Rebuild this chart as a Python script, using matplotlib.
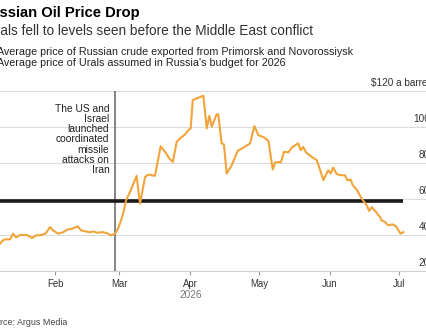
import matplotlib
matplotlib.use('Agg')
import matplotlib.pyplot as plt
import matplotlib.dates as mdates
from datetime import datetime

plt.rcParams['font.family'] = ['Liberation Sans', 'DejaVu Sans']

# Urals price: days since 1 Jan 2026 and $ a barrel
days = [7.0, 8.3, 9.2, 11.4, 12.7, 14.0, 15.7, 18.8, 21.0, 22.7, 25.3, 27.1,
        28.8, 30.1, 32.3, 34.5, 36.2, 38.4, 41.0, 42.3, 44.5, 46.3, 47.6, 49.3,
        52.0, 54.1, 55.4, 57.2, 58.5, 59.8, 60.7, 62.0, 63.7, 66.6, 68.1, 70.3,
        71.7, 74.6, 77.1, 79.0, 80.9, 82.4, 84.1, 85.5, 87.7, 89.2, 90.2, 91.1,
        95.7, 97.2, 98.3, 99.4, 101.5, 102.2, 103.7, 104.7, 105.9, 108.1, 110.7,
        113.2, 116.1, 118.0, 119.7, 122.2, 124.1, 126.0, 127.0, 129.6, 130.9,
        132.8, 134.3, 137.1, 138.2, 139.3, 140.5, 143.0, 145.2, 148.1, 150.2,
        151.3, 152.4, 153.9, 156.1, 157.5, 158.5, 160.0, 160.9, 162.6, 164.8,
        167.0, 168.1, 169.2, 171.4, 172.8, 173.5, 175.0, 176.4, 178.3, 179.8,
        180.8, 181.8, 183.0]
price = [35.4, 37.2, 37.8, 37.8, 41.0, 38.9, 40.2, 40.2, 38.5, 40.0, 40.2, 41.3,
         44.6, 42.8, 41.0, 41.7, 43.1, 43.7, 45.0, 42.8, 42.2, 41.7, 42.2, 41.5,
         41.8, 41.0, 40.0, 41.0, 43.7, 48.3, 52.0, 59.4, 64.0, 73.0, 57.6, 72.4,
         73.7, 73.0, 89.4, 86.3, 82.6, 80.7, 91.8, 93.7, 95.9, 98.3, 99.3, 115.0,
         117.4, 99.3, 106.3, 100.2, 107.0, 107.2, 91.0, 90.4, 74.3, 78.9, 86.8,
         88.7, 91.0, 100.6, 95.6, 94.3, 92.4, 76.5, 80.4, 80.7, 86.3, 86.0, 88.7,
         91.0, 87.2, 89.0, 86.0, 83.5, 81.7, 70.6, 76.1, 74.3, 77.6, 73.9, 73.3,
         73.3, 70.6, 70.9, 67.8, 65.4, 60.4, 56.7, 53.5, 55.7, 52.4, 50.2, 48.3,
         47.4, 45.6, 46.1, 45.0, 42.8, 41.0, 41.8]

budget_price = 59
budget_days = [0, 182.8]
attack_day = 57.2
month_labels = ['Feb', 'Mar', 'Apr', 'May', 'Jun', 'Jul']
month_days = [31, 59, 90, 120, 151, 181]
y_ticks = [20, 40, 60, 80, 100, 120]
y_labels = ['20', '40', '60', '80', '100', '$120 a barrel']

start = mdates.date2num(datetime(2026, 1, 1))
x = [start + d for d in days]

fig = plt.figure(figsize=(4.27, 3.35), dpi=100)
ax = fig.add_axes([0, 0.1896, 1, 0.5441])

ax.set_yticks(y_ticks)
ax.grid(axis='y', color='#dcdcdc', lw=0.8)
ax.set_axisbelow(True)
ax.tick_params(axis='y', length=0, labelleft=False)

ax.hlines(budget_price, start + budget_days[0], start + budget_days[1],
          color='#1a1a1a', lw=2.6, zorder=3)
ax.vlines(start + attack_day, 20, 120, color='#707070', lw=1.2, zorder=2)
ax.plot(x, price, color='#f2a43a', lw=1.5, zorder=4)

ax.set_xlim(start + 7.0, start + 193.3)
ax.set_ylim(20, 121)
ax.set_xticks([start + d for d in month_days])
ax.set_xticklabels(month_labels, fontsize=6.9, color='#333333')
ax.tick_params(axis='x', length=3, width=0.8, color='#999999', pad=2.5)

for s in ['top', 'left', 'right']:
    ax.spines[s].set_visible(False)
ax.spines['bottom'].set_color('#d0d0d0')
ax.spines['bottom'].set_linewidth(0.8)

for v, lab in zip(y_ticks, y_labels):
    ax.annotate(lab, xy=(1.007, v), xycoords=('axes fraction', 'data'),
                xytext=(0, 2.5), textcoords='offset points', ha='right',
                va='bottom', fontsize=7.2, color='#333333', annotation_clip=False)

# last line baseline sits near $74.6
ax.text(start + 54.7, 74.6,
        'The US and\nIsrael\nlaunched\ncoordinated\nmissile\nattacks on\nIran',
        ha='right', va='baseline', multialignment='right', fontsize=7.4,
        color='#222222', linespacing=1.02)

ax.text(start + 90, -0.146, '2026', transform=ax.get_xaxis_transform(),
        ha='center', va='baseline', fontsize=7.3, color='#777777')

W, H = 427, 335
fig.text(-19.6 / W, 1 - 16.7 / H, 'Russian Oil Price Drop', fontsize=10.6,
         fontweight='bold', color='#000000', va='baseline')
fig.text(-14.5 / W, 1 - 35 / H,
         'Urals fell to levels seen before the Middle East conflict',
         fontsize=9.85, color='#333333', va='baseline')
fig.text(-3.5 / W, 1 - 55 / H,
         'Average price of Russian crude exported from Primorsk and Novorossiysk',
         fontsize=7.75, color='#222222', va='baseline')
fig.text(-3.5 / W, 1 - 66.5 / H,
         "Average price of Urals assumed in Russia's budget for 2026",
         fontsize=7.75, color='#222222', va='baseline')
fig.text(-15.7 / W, 1 - 325 / H, 'Source: Argus Media', fontsize=6.4,
         color='#444444', va='baseline')

fig.savefig('out.png', dpi=100)
